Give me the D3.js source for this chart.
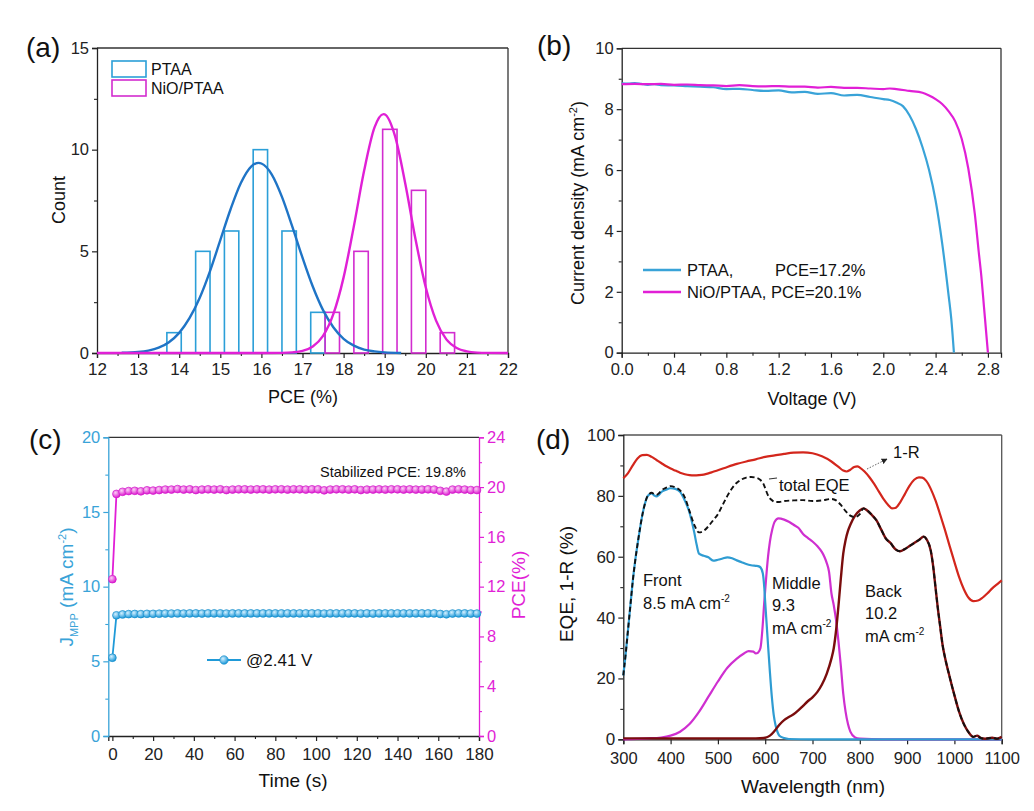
<!DOCTYPE html>
<html><head><meta charset="utf-8">
<script src="https://cdn.jsdelivr.net/npm/d3@7"></script>
<style>
body{margin:0;background:#fff}
svg{display:block}
text{font-family:"Liberation Sans",Arial,Helvetica,sans-serif}
</style>
</head><body>
<svg id="chart" width="1034" height="811"></svg>
<script>
// ---------------- DATA ----------------
// (a) histogram
const binWidth = 0.35;
const ptaaBinStart = [13.7, 14.4, 15.1, 15.8, 16.5, 17.2];
const ptaaCount    = [1, 5, 6, 10, 6, 2];
const nioBinStart  = [17.55, 18.25, 18.95, 19.65, 20.35];
const nioCount     = [2, 5, 11, 8, 1];
const ptaaFitX = [12.6,13.0,13.25,13.5,13.75,14.0,14.25,14.5,14.75,15.0,15.25,15.5,15.75,15.93,16.0,16.25,16.5,16.75,17.0,17.25,17.5,17.75,18.0,18.25,18.5,18.75,19.0,19.4];
const ptaaFitY = [0.01,0.05,0.12,0.26,0.53,0.99,1.71,2.72,4.03,5.55,7.07,8.36,9.17,9.35,9.32,8.79,7.68,6.23,4.69,3.27,2.11,1.27,0.70,0.36,0.17,0.08,0.03,0.0];
const nioFitX = [12.0,16.0,16.5,16.75,17.0,17.25,17.5,17.75,18.0,18.25,18.5,18.75,18.97,19.0,19.25,19.5,19.75,20.0,20.25,20.5,20.75,21.0,21.25,21.5,22.0];
const nioFitY = [0.0,0.0,0.007,0.03,0.10,0.32,0.84,1.91,3.72,6.24,8.97,11.08,11.75,11.74,10.68,8.34,5.59,3.22,1.59,0.67,0.25,0.08,0.02,0.004,0.0];

// (b) J-V
const ptaaV = [0,0.05,0.1,0.15,0.2,0.25,0.3,0.4,0.5,0.6,0.7,0.8,0.9,1.0,1.1,1.2,1.3,1.4,1.5,1.6,1.7,1.8,1.9,2.0,2.05,2.1,2.15,2.2,2.25,2.3,2.35,2.4,2.45,2.5,2.52,2.54];
const ptaaJ = [8.85,8.84,8.86,8.83,8.80,8.82,8.79,8.78,8.76,8.74,8.72,8.66,8.67,8.63,8.60,8.62,8.55,8.57,8.50,8.53,8.45,8.47,8.40,8.33,8.30,8.22,8.10,7.80,7.35,6.75,6.00,5.00,3.60,1.86,1.10,0.0];
const nioV = [0,0.1,0.2,0.3,0.4,0.5,0.6,0.7,0.8,0.9,1.0,1.1,1.2,1.3,1.4,1.5,1.6,1.7,1.8,1.9,2.0,2.05,2.1,2.2,2.3,2.35,2.4,2.45,2.5,2.55,2.6,2.65,2.7,2.73,2.75,2.77,2.785,2.8];
const nioJ = [8.82,8.83,8.82,8.83,8.80,8.81,8.79,8.78,8.76,8.79,8.76,8.75,8.76,8.74,8.74,8.71,8.73,8.70,8.70,8.68,8.66,8.68,8.66,8.60,8.54,8.45,8.33,8.17,7.93,7.60,7.02,6.05,4.55,3.30,2.50,1.50,0.75,0.0];

// (c) stabilized output
const timeS = [0,2,5,8,11,14,17,20,23,26,29,32,35,38,41,44,47,50,53,56,59,62,65,68,71,74,77,80,83,86,89,92,95,98,101,104,107,110,113,116,119,122,125,128,131,134,137,140,143,146,149,152,155,158,161,164,167,170,173,176,179];
const jmpp  = [5.24,8.08,8.14,8.16,8.17,8.16,8.18,8.18,8.19,8.20,8.20,8.21,8.20,8.21,8.21,8.20,8.21,8.21,8.21,8.20,8.21,8.21,8.21,8.21,8.21,8.21,8.21,8.21,8.21,8.21,8.21,8.21,8.21,8.21,8.21,8.20,8.21,8.21,8.21,8.21,8.21,8.20,8.21,8.20,8.21,8.21,8.21,8.21,8.21,8.21,8.21,8.21,8.21,8.21,8.17,8.15,8.20,8.21,8.21,8.20,8.20];
const pce   = [12.6,19.45,19.62,19.68,19.70,19.66,19.74,19.72,19.76,19.80,19.80,19.84,19.80,19.82,19.76,19.80,19.82,19.80,19.82,19.76,19.80,19.82,19.82,19.80,19.82,19.82,19.80,19.82,19.82,19.80,19.82,19.82,19.80,19.82,19.82,19.74,19.80,19.82,19.82,19.80,19.82,19.76,19.80,19.80,19.82,19.80,19.82,19.82,19.80,19.82,19.80,19.80,19.82,19.80,19.70,19.64,19.80,19.82,19.80,19.76,19.76];

// (d) EQE and 1-R
const rWl = [300,310,320,330,340,350,360,370,380,390,400,410,420,430,440,450,460,470,480,490,500,520,540,560,580,600,620,640,660,680,700,720,740,755,765,772,780,788,795,800,810,820,830,840,850,860,868,875,885,895,905,915,925,932,940,950,960,970,980,990,1000,1010,1020,1030,1040,1050,1060,1070,1080,1090,1100];
const oneMinusR = [85.8,87.5,90.0,92.3,93.4,93.5,92.8,91.8,90.8,89.8,89.0,88.3,87.6,87.1,86.8,86.7,86.8,87.0,87.4,87.9,88.4,89.5,90.5,91.3,92.0,92.8,93.3,93.8,94.2,94.3,94.0,93.0,91.3,89.5,88.3,88.0,88.6,89.5,89.7,89.3,88.0,86.2,84.0,81.5,79.0,77.0,75.9,76.0,77.8,80.5,83.3,85.3,86.1,86.0,85.0,82.3,78.5,73.8,68.8,63.5,58.3,53.3,49.3,46.5,45.4,45.6,46.6,48.0,49.6,50.9,52.2];
const frontWl = [300,305,310,315,320,325,330,335,340,345,350,355,360,365,370,375,380,390,400,410,420,430,440,445,450,455,460,470,480,490,500,510,520,530,540,550,560,570,580,585,590,595,598,600,603,606,610,614,618,622,626,630,640,650,700,800,900,1000,1100];
const frontEQE = [21,28,36,44,52,58.5,64,69,73.5,77,79.5,80.5,80.8,80.2,79.8,80.3,81.2,82.0,82.5,82.3,81.3,78.5,74.5,71.5,68,64,61,60.3,59.8,58.7,59.0,59.4,59.8,59.5,58.8,58.2,57.6,57.2,57.0,56.9,56.5,54.5,50,45,38,31,22,14,8,4.5,2.4,1.2,0.4,0.1,0,0,0,0,0];
const middleWl = [300,350,380,400,420,440,460,480,500,520,540,555,565,575,580,585,590,594,598,602,606,610,615,620,628,640,650,660,670,680,690,700,710,720,725,730,735,740,745,750,755,760,765,770,775,780,790,800,850,1100];
const middleEQE = [0,0.3,0.6,1.2,2.5,5,9,14,19,23.5,26.5,28.2,29,28.8,28.2,28.5,30,36,45,53,60,65,69,71.5,72.6,72.2,71.5,70.5,69.5,67.5,66.2,65,63.5,61.5,60,58,55,48,44,39,32,24,15,9,5,2.5,0.6,0.2,0,0];
const backWl = [300,400,500,580,600,610,620,630,640,650,660,670,680,690,700,710,720,730,740,745,750,755,760,765,770,775,780,790,800,808,815,825,835,845,855,865,875,885,895,905,915,925,935,942,950,955,960,965,970,975,980,990,1000,1010,1020,1030,1040,1048,1055,1065,1080,1090,1100];
const backEQE = [0.3,0.3,0.3,0.3,0.5,1.2,2.8,4.8,6.3,7.3,8.2,9.5,11,12.5,13.8,15.5,18,21.5,26.5,30,36,44,53,61,65.5,68.5,70.5,73.5,75.2,75.9,75.3,73.8,72,69,66,64.5,62.5,61.8,62.5,63.5,64.5,65.5,66.6,65.5,62,57,50,43,37,31,27,20.5,14.5,9,5,2.3,0.8,1.2,0.5,0.2,0.5,0.2,0.8];
const totalWl = [300,305,310,315,320,325,330,335,340,345,350,355,360,365,370,375,380,390,400,410,420,430,440,450,460,470,480,490,500,510,520,530,540,550,560,570,580,590,596,600,605,610,615,620,630,640,660,680,700,720,740,750,760,770,780,790,800,808];
const totalEQE = [21,28,36,44,52,58.5,64,69,73.5,77,79.5,80.6,81,80.6,80.3,80.8,81.7,82.6,83.2,82.8,81.8,79.5,75,70.5,68,68.5,70,72,74,77,80,82.5,84.3,85.4,86,86.2,86,85.2,84,82.5,80.5,79.2,78.5,78,78,78.3,78.5,78.6,78.3,78.5,79,78.5,77,75,73.5,73,74,75.9];

// ---------------- DRAWING ----------------
const svg = d3.select("#chart");
const FONT = '"Liberation Sans",Arial,Helvetica,sans-serif';
const C_PTAA_BAR = "#2b9fd8", C_PTAA_FIT = "#1f74c6";
const C_NIO = "#e020d6", C_NIO_BAR = "#d22ccf";
const C_CYAN = "#39a3d8", C_MAG = "#e11fd6";

function axis(g, scale, orient, pos, majors, minors, fmt, color, opts = {}) {
  const gen = {bottom: d3.axisBottom, left: d3.axisLeft, right: d3.axisRight, top: d3.axisTop}[orient];
  const tr = (orient === "bottom" || orient === "top") ? `translate(0,${pos})` : `translate(${pos},0)`;
  const a = g.append("g").attr("transform", tr)
    .call(gen(scale).tickValues(majors).tickSize(5).tickPadding(opts.pad || 3).tickFormat(fmt));
  a.select(".domain").attr("stroke", color).attr("stroke-width", 1.3);
  a.selectAll(".tick line").attr("stroke", color).attr("stroke-width", 1.2);
  a.selectAll(".tick text").attr("fill", opts.textColor || color).attr("font-size", opts.fs || 16.5).attr("font-family", FONT);
  if (minors && minors.length) {
    const m = g.append("g").attr("transform", tr)
      .call(gen(scale).tickValues(minors).tickSize(3).tickFormat(""));
    m.select(".domain").remove();
    m.selectAll(".tick line").attr("stroke", color).attr("stroke-width", 1.1);
  }
  return a;
}
function frameLine(g, x1, y1, x2, y2, color, w) {
  return g.append("line").attr("x1", x1).attr("y1", y1).attr("x2", x2).attr("y2", y2)
    .attr("stroke", color).attr("stroke-width", w || 1.3);
}
function label(txt, x, y, opts = {}) {
  return svg.append("text").attr("x", x).attr("y", y).text(txt)
    .attr("font-size", opts.fs || 16).attr("fill", opts.fill || "#111")
    .attr("text-anchor", opts.anchor || "start").attr("font-family", FONT);
}
function vtitle(x, y, color, fs) {
  return svg.append("text").attr("transform", `translate(${x},${y}) rotate(-90)`)
    .attr("text-anchor", "middle").attr("font-size", fs).attr("fill", color).attr("font-family", FONT);
}
function addMA(t, sizeSup) {
  t.append("tspan").text("mA cm");
  t.append("tspan").text("-2").attr("font-size", sizeSup).attr("dy", -7);
}

// panel labels
label("(a)", 26, 57, {fs: 28});
label("(b)", 537, 55, {fs: 28});
label("(c)", 29, 449, {fs: 28});
label("(d)", 536, 449, {fs: 28});

// ===== (a) =====
{
  const g = svg.append("g");
  const x = d3.scaleLinear([12, 22], [97, 508]);
  const y = d3.scaleLinear([0, 15], [353, 48]);
  frameLine(g, 97, 48, 508, 48, "#333");
  frameLine(g, 508, 48, 508, 353, "#333");
  axis(g, x, "bottom", 353, d3.range(12, 22.5, 1), d3.range(12.5, 22, 1), d3.format("d"), "#222", {pad: 5, fs: 17});
  axis(g, y, "left", 97, [0, 5, 10, 15], [2.5, 7.5, 12.5], d3.format("d"), "#222");
  const bars = (starts, counts, color) => g.append("g").selectAll("rect")
    .data(starts.map((s, i) => [s, counts[i]])).join("rect")
    .attr("x", d => x(d[0])).attr("y", d => y(d[1]))
    .attr("width", d => x(d[0] + binWidth) - x(d[0])).attr("height", d => y(0) - y(d[1]))
    .attr("fill", "none").attr("stroke", color).attr("stroke-width", 1.6);
  bars(ptaaBinStart, ptaaCount, C_PTAA_BAR);
  bars(nioBinStart, nioCount, C_NIO_BAR);
  const line = d3.line().x(d => x(d[0])).y(d => y(d[1])).curve(d3.curveMonotoneX);
  g.append("path").attr("d", line(ptaaFitX.map((v, i) => [v, ptaaFitY[i]])))
    .attr("fill", "none").attr("stroke", C_PTAA_FIT).attr("stroke-width", 2.4);
  g.append("path").attr("d", line(nioFitX.map((v, i) => [v, nioFitY[i]])))
    .attr("fill", "none").attr("stroke", C_NIO).attr("stroke-width", 2.4);
  // legend
  g.append("rect").attr("x", 112).attr("y", 61).attr("width", 34).attr("height", 16)
    .attr("fill", "none").attr("stroke", C_PTAA_BAR).attr("stroke-width", 1.6);
  g.append("rect").attr("x", 112).attr("y", 80).attr("width", 34).attr("height", 16)
    .attr("fill", "none").attr("stroke", C_NIO_BAR).attr("stroke-width", 1.6);
  label("PTAA", 151, 75, {fs: 16});
  label("NiO/PTAA", 151, 94, {fs: 16});
  label("PCE (%)", 303, 403, {fs: 18, anchor: "middle"});
  vtitle(65, 200, "#111", 18).text("Count");
}

// ===== (b) =====
{
  const g = svg.append("g");
  const x = d3.scaleLinear([0, 2.9], [621.7, 1001]);
  const y = d3.scaleLinear([0, 10], [352.7, 48.3]);
  frameLine(g, 621.7, 48.3, 1001, 48.3, "#333");
  frameLine(g, 1001, 48.3, 1001, 352.7, "#333");
  axis(g, x, "bottom", 352.7, d3.range(0, 2.81, 0.4), d3.range(0.2, 2.9, 0.4), d3.format(".1f"), "#222", {pad: 6});
  axis(g, y, "left", 621.7, d3.range(0, 10.1, 2), d3.range(1, 10, 2), d3.format("d"), "#222");
  const line = d3.line().x(d => x(d[0])).y(d => y(d[1])).curve(d3.curveMonotoneX);
  g.append("path").attr("d", line(ptaaV.map((v, i) => [v, ptaaJ[i]])))
    .attr("fill", "none").attr("stroke", C_CYAN).attr("stroke-width", 2.2);
  g.append("path").attr("d", line(nioV.map((v, i) => [v, nioJ[i]])))
    .attr("fill", "none").attr("stroke", C_MAG).attr("stroke-width", 2.2);
  frameLine(g, 643, 270, 681, 270, C_CYAN, 2.6);
  frameLine(g, 643, 292, 681, 292, C_MAG, 2.6);
  label("PTAA,", 687, 276, {fs: 16.5});
  label("PCE=17.2%", 775, 276, {fs: 16.5});
  label("NiO/PTAA, PCE=20.1%", 687, 298, {fs: 16.5});
  label("Voltage (V)", 812, 405, {fs: 18, anchor: "middle"});
  const t = vtitle(584, 203, "#111", 18);
  t.append("tspan").text("Current density (");
  addMA(t, 11);
  t.append("tspan").text(")").attr("dy", 7);
}

// ===== (c) =====
const defs = svg.append("defs");
{
  const g = svg.append("g");
  const grad = (id, c0, c1) => {
    const r = defs.append("radialGradient").attr("id", id).attr("cx", "38%").attr("cy", "35%").attr("r", "65%");
    r.append("stop").attr("offset", "0%").attr("stop-color", c0);
    r.append("stop").attr("offset", "100%").attr("stop-color", c1);
  };
  grad("gBlue", "#d4f0ff", "#1b98d8");
  grad("gMag", "#fbd0f5", "#dc18cf");
  const x = d3.scaleLinear([-2, 180], [108.3, 479]);
  const yL = d3.scaleLinear([0, 20], [736, 437.3]);
  const yR = d3.scaleLinear([0, 24], [736, 437.3]);
  frameLine(g, 108.3, 437.3, 479, 437.3, "#333");
  axis(g, x, "bottom", 736, d3.range(0, 181, 20), d3.range(10, 180, 20), d3.format("d"), "#222", {pad: 7, fs: 17});
  axis(g, yL, "left", 108.3, d3.range(0, 21, 5), [2.5, 7.5, 12.5, 17.5], d3.format("d"), C_CYAN);
  axis(g, yR, "right", 479, d3.range(0, 25, 4), d3.range(2, 24, 4), d3.format("d"), C_MAG);
  const lineL = d3.line().x(d => x(d[0])).y(d => yL(d[1]));
  const lineR = d3.line().x(d => x(d[0])).y(d => yR(d[1]));
  const pj = timeS.map((t, i) => [t, jmpp[i]]);
  const pp = timeS.map((t, i) => [t, pce[i]]);
  g.append("path").attr("d", lineR(pp)).attr("fill", "none").attr("stroke", C_MAG).attr("stroke-width", 1.8);
  g.append("g").selectAll("circle").data(pp).join("circle")
    .attr("cx", d => x(d[0])).attr("cy", d => yR(d[1])).attr("r", 3.9)
    .attr("fill", "url(#gMag)").attr("stroke", "#d21ccb").attr("stroke-width", 0.7);
  g.append("path").attr("d", lineL(pj)).attr("fill", "none").attr("stroke", "#1f9ad8").attr("stroke-width", 1.8);
  g.append("g").selectAll("circle").data(pj).join("circle")
    .attr("cx", d => x(d[0])).attr("cy", d => yL(d[1])).attr("r", 3.9)
    .attr("fill", "url(#gBlue)").attr("stroke", "#1a8fcc").attr("stroke-width", 0.7);
  // legend
  frameLine(g, 207, 660, 241, 660, "#1f9ad8", 1.8);
  g.append("circle").attr("cx", 224).attr("cy", 660).attr("r", 4.2)
    .attr("fill", "url(#gBlue)").attr("stroke", "#1a8fcc").attr("stroke-width", 0.7);
  label("@2.41 V", 246, 666, {fs: 17});
  label("Stabilized PCE: 19.8%", 466, 477, {fs: 14.5, anchor: "end"});
  label("Time (s)", 293, 787, {fs: 19, anchor: "middle"});
  const tl = vtitle(73, 587, C_CYAN, 19);
  tl.append("tspan").text("J");
  tl.append("tspan").text("MPP").attr("font-size", 11).attr("dy", 5);
  tl.append("tspan").text(" (").attr("dy", -5);
  addMA(tl, 11);
  tl.append("tspan").text(")").attr("dy", 7);
  vtitle(525, 585, C_MAG, 19).text("PCE(%)");
}

// ===== (d) =====
{
  const g = svg.append("g");
  const x = d3.scaleLinear([300, 1100], [623.3, 1001.7]);
  const y = d3.scaleLinear([0, 100], [739.3, 435]);
  frameLine(g, 623.3, 435, 1001.7, 435, "#555");
  frameLine(g, 1001.7, 435, 1001.7, 739.3, "#555");
  axis(g, x, "bottom", 739.3, d3.range(300, 1101, 100), [], d3.format("d"), "#222", {pad: 8});
  axis(g, y, "left", 623.3, d3.range(0, 101, 20), d3.range(10, 100, 20), d3.format("d"), "#222", {fs: 17});
  const line = d3.line().x(d => x(d[0])).y(d => y(d[1])).curve(d3.curveMonotoneX);
  const zip = (a, b) => a.map((v, i) => [v, b[i]]);
  const path = (pts, color, w, dash) => g.append("path").attr("d", line(pts))
    .attr("fill", "none").attr("stroke", color).attr("stroke-width", w)
    .attr("stroke-dasharray", dash || null);
  path(zip(rWl, oneMinusR), "#d3261c", 2.2);
  path(zip(middleWl, middleEQE), "#cf2fd0", 2.2);
  path(zip(frontWl, frontEQE), "#2f9cd2", 2.2);
  path(zip(backWl, backEQE), "#7a0d0d", 2.4);
  const total = zip(totalWl, totalEQE).concat(zip(backWl, backEQE).filter(d => d[0] > 808));
  path(total, "#111", 1.9, "5,3");
  // annotations
  label("Front", 643, 586, {fs: 16.5});
  const f = label("8.5 ", 643, 609, {fs: 16.5}); addMA(f, 10);
  label("Middle", 772, 589, {fs: 16.5});
  label("9.3", 772, 611, {fs: 16.5});
  const m = label("", 772, 634, {fs: 16.5}); addMA(m, 10);
  label("Back", 865, 597, {fs: 16.5});
  label("10.2", 865, 619, {fs: 16.5});
  const b = label("", 865, 642, {fs: 16.5}); addMA(b, 10);
  label("total EQE", 779, 491, {fs: 16.5});
  label("1-R", 893, 458, {fs: 16.5});
  defs.append("marker").attr("id", "arr").attr("viewBox", "0 0 10 10").attr("refX", 9).attr("refY", 5)
    .attr("markerWidth", 6).attr("markerHeight", 6).attr("orient", "auto")
    .append("path").attr("d", "M0,0 L10,5 L0,10 z").attr("fill", "#222");
  g.append("line").attr("x1", 867).attr("y1", 469).attr("x2", 887).attr("y2", 459)
    .attr("stroke", "#666").attr("stroke-width", 1).attr("stroke-dasharray", "1.5,1.5").attr("marker-end", "url(#arr)");
  frameLine(g, 777, 478, 769, 479, "#333", 1.2);
  label("Wavelength (nm)", 813, 793, {fs: 19, anchor: "middle"});
  vtitle(573, 584, "#111", 19).text("EQE, 1-R (%)");
}
</script>
</body></html>
